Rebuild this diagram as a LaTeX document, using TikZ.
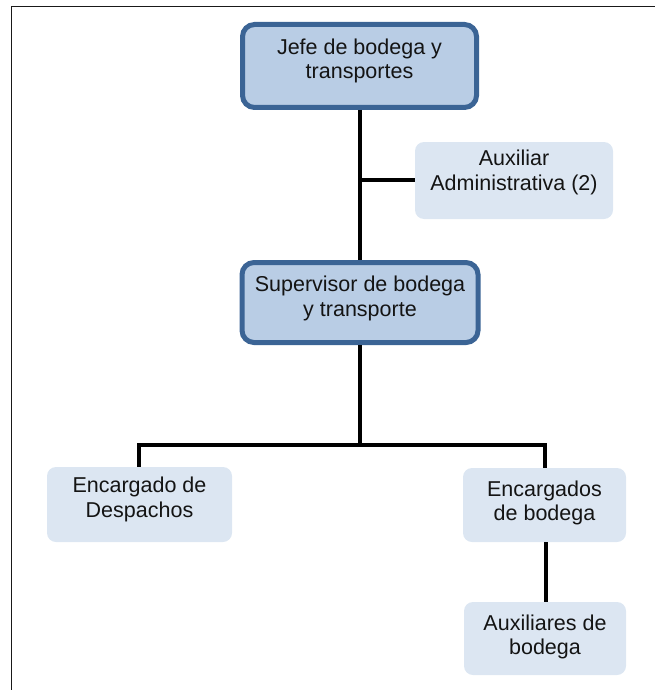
\documentclass[tikz,border=0pt]{standalone}
\usepackage{fontspec}
\setmainfont{Liberation Sans}
\definecolor{headfill}{HTML}{B9CDE5}
\definecolor{headline}{HTML}{3B6495}
\definecolor{subfill}{HTML}{DCE6F2}
\definecolor{textcol}{HTML}{141414}
\begin{document}
\begin{tikzpicture}[x=1pt,y=-1pt,
  headbox/.style={draw=headline, line width=5pt, fill=headfill,
    rounded corners=12pt, inner sep=0pt},
  subbox/.style={fill=subfill, rounded corners=9pt, inner sep=0pt},
  boxtext/.style={font=\fontsize{21.5}{24.5}\selectfont, text=textcol,
    align=center, inner sep=0pt},
  link/.style={line width=4pt, draw=black}
]
\useasboundingbox (0,0) rectangle (655,690);
% page frame (left and top edges)
\draw[line width=1.8pt, draw=black!90] (11.5,690) -- (11.5,6.5) -- (655,6.5);

% boxes
\node[headbox, minimum width=234pt, minimum height=83pt] (jefe) at (359.5,66) {};
\node[boxtext, yshift=5pt] (jefe-t) at (jefe.center) {Jefe de bodega y\\transportes};

\node[subbox, minimum width=198pt, minimum height=77pt] (aux) at (514,180.5) {};
\node[boxtext, yshift=8pt] (aux-t) at (aux.center) {Auxiliar\\Administrativa (2)};

\node[headbox, minimum width=236pt, minimum height=80pt] (sup) at (360,302.5) {};
\node[boxtext, yshift=4pt] (sup-t) at (sup.center) {Supervisor de bodega\\y transporte};

\node[subbox, minimum width=185pt, minimum height=75pt] (desp) at (139.5,504.5) {};
\node[boxtext, yshift=5pt] (desp-t) at (desp.center) {Encargado de\\Despachos};

\node[subbox, minimum width=163pt, minimum height=74pt] (enc) at (544.5,505) {};
\node[boxtext, yshift=2pt] (enc-t) at (enc.center) {Encargados\\de bodega};

\node[subbox, minimum width=162pt, minimum height=73pt] (auxb) at (545,638.5) {};
\node[boxtext, yshift=1.5pt] (auxb-t) at (auxb.center) {Auxiliares de\\bodega};

% connectors
\coordinate (j1) at (360,180);
\draw[link] (jefe.south -| j1) -- (sup.north -| j1);
\draw[link] (j1) -- (aux.west |- j1);

\coordinate (split) at (360,445);
\draw[link] (sup.south -| split) -- (split);
\draw[link] (desp.north -| 139,0) |- (split) -| (enc.north -| 544.5,0);
\draw[link] (enc.south -| 545.5,0) -- (auxb.north -| 545.5,0);
\end{tikzpicture}
\end{document}
